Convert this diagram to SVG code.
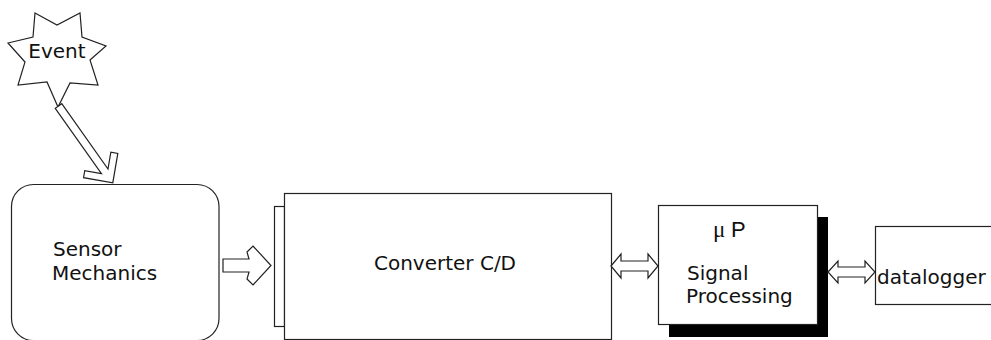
<svg xmlns="http://www.w3.org/2000/svg" width="991" height="340" viewBox="0 0 991 340">
<style>
.ln{fill:#fff;stroke:#222;stroke-width:1.2;stroke-linejoin:miter}
.t{font-family:"DejaVu Sans","Liberation Sans",sans-serif;font-size:20px;fill:#111}
</style>
<rect width="991" height="340" fill="#fff"/>
<g id="event">
<polygon class="ln" points="35,13 57,25 80,13 82,37 106,46 90,60 98,85 70,83 58,107 47,82 18,85 25,62 8,43 33,37"/>
<text class="t" x="57" y="58" text-anchor="middle">Event</text>
</g>
<g id="sensor">
<rect class="ln" x="11.5" y="184.5" width="207.5" height="156" rx="22" ry="22"/>
<text class="t" x="53" y="256">Sensor</text>
<text class="t" x="52" y="280">Mechanics</text>
</g>
<g id="converter">
<rect class="ln" x="274.5" y="206.5" width="10" height="120"/>
<rect class="ln" x="284.5" y="193.5" width="327" height="146"/>
<text class="t" x="445" y="270" text-anchor="middle" font-size="19.7">Converter C/D</text>
</g>
<g id="processor">
<rect x="669" y="217" width="159" height="120" fill="#000"/>
<rect class="ln" x="658.5" y="205.5" width="159" height="119"/>
<text x="713" y="237" font-family="'Liberation Serif',serif" font-size="23" fill="#111">μ</text>
<text x="731" y="237" font-family="'Liberation Sans',sans-serif" font-size="22" fill="#111">P</text>
<text class="t" x="687" y="280" font-size="19">Signal</text>
<text class="t" x="686" y="303" font-size="19.5">Processing</text>
</g>
<g id="datalogger">
<rect class="ln" x="875.5" y="226.5" width="130" height="78"/>
<text class="t" x="877" y="284">datalogger</text>
</g>
<g id="connectors">
<polygon class="ln" transform="translate(58.5,106) rotate(54.7)" points="0,-4 80,-4 68,-16 73,-21 94,0 73,21 68,16 80,4 0,4"/>
<polygon class="ln" points="223,259 249,259 247,252 253,246 271,265.5 253,285 247,279 249,272 223,272"/>
<polygon class="ln" points="611,266 621,254 621,261 648,261 648,254 658,266 648,278 648,271 621,271 621,278"/>
<polygon class="ln" points="828,272 838,261 838,267 865,267 865,261 875,272 865,283 865,277 838,277 838,283"/>
</g>
</svg>
